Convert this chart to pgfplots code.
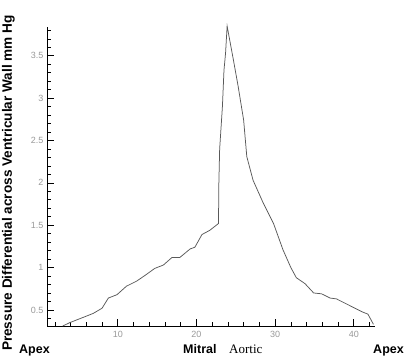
\documentclass[border=0pt]{standalone}
\usepackage{pgfplots}
\pgfplotsset{compat=1.18}
\usepackage{fontspec}
\setmainfont{Liberation Sans}
\newfontfamily\serifx{Liberation Serif}
\begin{document}
\begin{tikzpicture}[x=1pt,y=1pt]
\useasboundingbox (0,0) rectangle (404,357);
\begin{axis}[
  at={(47pt,31pt)}, anchor=south west,
  scale only axis, width=328pt, height=299pt,
  xmin=1, xmax=42.7, ymin=0.31, ymax=3.84,
  axis x line=bottom, axis y line=left,
  axis line style={-, black, line width=0.8pt},
  xtick={10,20,30,40}, minor xtick={2,4,...,42},
  ytick={0.5,1,...,3.5}, minor ytick={0.4,0.5,...,3.8},
  tick align=inside,
  major tick length=7pt, minor tick length=4pt,
  tick style={black, line width=0.6pt},
  ticklabel style={font=\fontsize{9}{10}\selectfont, text=black!40},
  xticklabel style={yshift=-2pt},
  /pgf/number format/assume math mode=true,
  clip=false,
]
\addplot[black!65, line width=0.75pt] coordinates {
(3.0,0.31) (3.9,0.35) (5.0,0.39) (6.1,0.43) (6.9,0.46) (8.0,0.52) (8.8,0.64)
(9.9,0.68) (11.1,0.78) (12.4,0.84) (13.5,0.91) (14.7,0.99) (15.8,1.03)
(16.9,1.12) (17.9,1.12) (19.2,1.22) (19.8,1.24) (20.7,1.39) (21.7,1.44)
(22.8,1.52) (22.85,2.00) (22.95,2.40) (23.3,2.90) (23.5,3.33) (23.7,3.53) (23.9,3.85)
(24.7,3.45) (25.3,3.14) (26.0,2.74) (26.4,2.31) (27.2,2.03) (28.5,1.76)
(29.8,1.52) (31.0,1.21) (32.0,1.00) (32.7,0.88) (33.8,0.81) (34.9,0.70)
(35.9,0.69) (37.0,0.64) (37.8,0.63) (39.3,0.56) (41.0,0.48) (41.8,0.45) (42.5,0.33)
};
\end{axis}
\node[rotate=90, anchor=center, font=\bfseries\fontsize{13.6}{15}\selectfont] at (8.5,174) {Pressure Differential across Ventricular Wall mm Hg};
\node[anchor=base west, font=\bfseries\fontsize{12.5}{14}\selectfont, inner sep=0] at (19,4) {Apex};
\node[anchor=base west, font=\bfseries\fontsize{12.5}{14}\selectfont, inner sep=0] at (183,4) {Mitral};
\node[anchor=base west, font=\serifx\fontsize{13}{14}\selectfont, inner sep=0] at (229,4) {Aortic};
\node[anchor=base east, font=\bfseries\fontsize{12.5}{14}\selectfont, inner sep=0] at (404,4) {Apex};
\end{tikzpicture}
\end{document}
